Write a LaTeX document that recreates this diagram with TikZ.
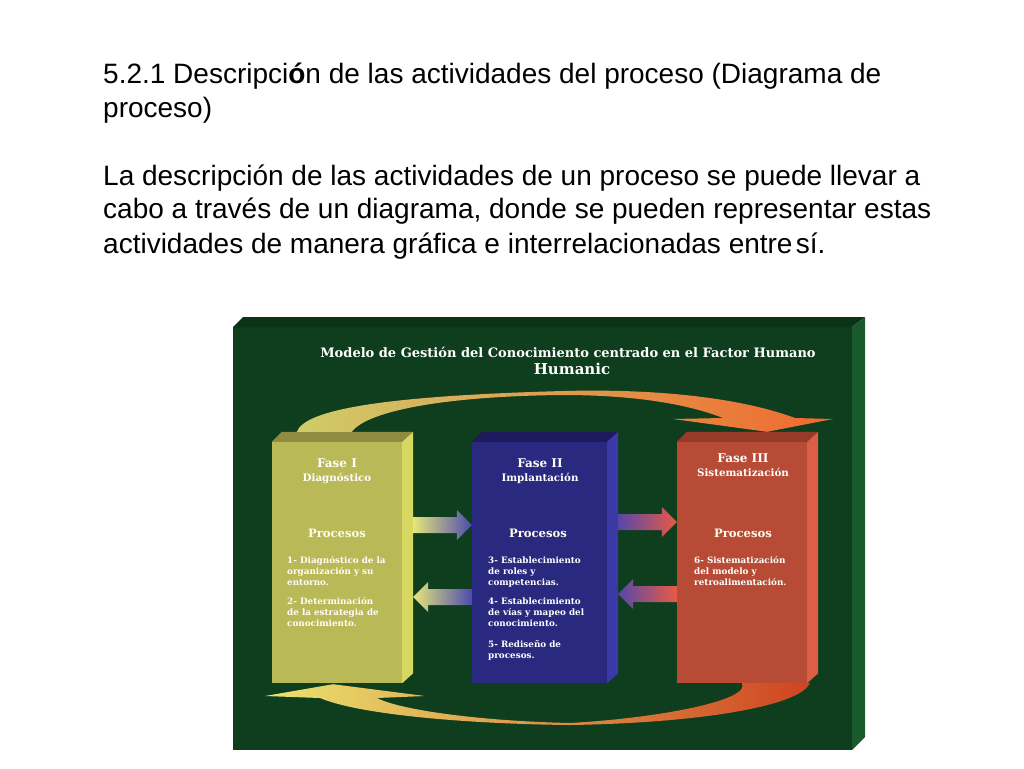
\documentclass[tikz,border=0pt]{standalone}
\usepackage{fontspec}
\setmainfont{Liberation Sans}
\newfontfamily\dvs{DejaVu Serif}
\usetikzlibrary{calc}
\definecolor{panelface}{HTML}{0E3E1E}
\definecolor{paneltop}{HTML}{0A3318}
\definecolor{panelside}{HTML}{185A2C}
\definecolor{bAfront}{HTML}{B9B957}
\definecolor{bAtop}{HTML}{8E8C3F}
\definecolor{bAside}{HTML}{D6D862}
\definecolor{bBfront}{HTML}{2A2980}
\definecolor{bBtop}{HTML}{1D1B5E}
\definecolor{bBside}{HTML}{3A39A6}
\definecolor{bCfront}{HTML}{B84B35}
\definecolor{bCtop}{HTML}{963A29}
\definecolor{bCside}{HTML}{DC5E45}
\definecolor{arY}{HTML}{E6E67A}
\definecolor{arB}{HTML}{4B4BB0}
\definecolor{arB2}{HTML}{5548A8}
\definecolor{arR}{HTML}{E85A45}
\definecolor{topL}{HTML}{CFCC6A}
\definecolor{topM}{HTML}{E9E6A8}
\definecolor{topR}{HTML}{F0682F}
\definecolor{botL}{HTML}{EAE46E}
\definecolor{botM}{HTML}{C89A4C}
\definecolor{botR}{HTML}{D04421}
\newcommand\rarr[4]{%
  \shade[left color=#3,right color=#4] let \p1=(#1), \p2=(#2) in
   (\x1,\y1+8pt) -- (\x2-15pt,\y1+8pt) -- (\x2-15pt,\y1+15pt) -- (\x2,\y1)
   -- (\x2-15pt,\y1-15pt) -- (\x2-15pt,\y1-8pt) -- (\x1,\y1-8pt) -- cycle;}
\newcommand\larr[4]{%
  \shade[left color=#3,right color=#4] let \p1=(#1), \p2=(#2) in
   (\x1,\y1+8pt) -- (\x2+15pt,\y1+8pt) -- (\x2+15pt,\y1+15pt) -- (\x2,\y1)
   -- (\x2+15pt,\y1-15pt) -- (\x2+15pt,\y1-8pt) -- (\x1,\y1-8pt) -- cycle;}
\newcommand\itemgroup[4]{%
  \foreach \t [count=\i] in {#4} {\node[itm] (#1-\i) at (#2,#3+11*\i-11) {\t};}}
\tikzset{
  txt/.style={anchor=base west,inner sep=0pt,font=\fontsize{28}{34}\selectfont},
  box/.style={draw=none,inner sep=0pt,minimum width=#1,minimum height=241pt},
  ttl/.style={anchor=base,inner sep=0pt,text=white,font=\dvs\bfseries\fontsize{13}{15}\selectfont},
  fase/.style={anchor=base,inner sep=0pt,text=white,font=\dvs\bfseries\fontsize{12}{14}\selectfont},
  sub/.style={anchor=base,inner sep=0pt,text=white,font=\dvs\bfseries\fontsize{10.3}{12}\selectfont},
  proc/.style={anchor=base,inner sep=0pt,text=white!92!yellow,font=\dvs\bfseries\fontsize{11.6}{13}\selectfont},
  itm/.style={anchor=base west,inner sep=0pt,text=white,font=\dvs\bfseries\fontsize{8.8}{11}\selectfont},
}
\begin{document}
\begin{tikzpicture}[x=1pt,y=-1pt]
\useasboundingbox (0,0) rectangle (1024,768);
\fill[white] (0,0) rectangle (1024,768);
% heading text
\node[txt] (h1) at (103,83) {5.2.1 Descripci\textbf{ó}n de las actividades del proceso (Diagrama de};
\node[txt] (h2) at (103,117) {proceso)};
\node[txt] (p1) at (103,185) {La descripción de las actividades de un proceso se puede llevar a};
\node[txt] (p2) at (103,218.5) {cabo a través de un diagrama, donde se pueden representar estas};
\node[txt] (p3) at (103,253) {actividades de manera gráfica e interrelacionadas entre\hspace{0.12em}sí.};
% panel
\fill[panelface] (233,327) rectangle (852,750);
\fill[paneltop] (233,327) -- (243,317) -- (865,317) -- (852,327) -- cycle;
\fill[panelside] (852,327) -- (865,317) -- (865,737) -- (852,750) -- cycle;
\node[ttl] (t1) at (568,357) {Modelo de Gestión del Conocimiento centrado en el Factor Humano};
\node[ttl,font=\dvs\bfseries\fontsize{15}{17}\selectfont] (t2) at (572,374) {Humanic};
% boxes
\node[box=130pt,fill=bAfront] (b1) at (337,562.5) {};
\node[box=135pt,fill=bBfront] (b2) at (539.5,562.5) {};
\node[box=130pt,fill=bCfront] (b3) at (742,562.5) {};
\foreach \b/\c in {b1/bA,b2/bB,b3/bC}{
  \fill[\c top] (\b.north west) -- ++(10,-10) -- ($(\b.north east)+(11,-10)$) -- (\b.north east) -- cycle;
  \fill[\c side] (\b.north east) -- ++(11,-10) -- ($(\b.south east)+(11,-10)$) -- (\b.south east) -- cycle;
}
% horizontal block arrows
\coordinate (a1t) at ([xshift=11pt,yshift=37.5pt]b1.east);
\coordinate (a1h) at ([yshift=37.5pt]b2.west);
\rarr{a1t}{a1h}{arY}{arB}
\coordinate (a2t) at ([yshift=-34.5pt]b2.west);
\coordinate (a2h) at ([xshift=11pt,yshift=-34.5pt]b1.east);
\larr{a2t}{a2h}{arY}{arB}
\coordinate (a3t) at ([xshift=11pt,yshift=40.5pt]b2.east);
\coordinate (a3h) at ([yshift=40.5pt]b3.west);
\rarr{a3t}{a3h}{arB2}{arR}
\coordinate (a4t) at ([yshift=-31.5pt]b3.west);
\coordinate (a4h) at ([xshift=11pt,yshift=-31.5pt]b2.east);
\larr{a4t}{a4h}{arB2}{arR}
% top curved arrow
\coordinate (ts1) at ($(b1.north west)+(25,-10)$);
\coordinate (ts2) at ($(b1.north west)+(80,-10)$);
\coordinate (tt) at ($(b3.north)+(25,-10)$);
\shade[left color=topL,middle color=topM,right color=topR]
  (ts1) .. controls (305,410) and (380,396) .. (563,391)
  .. controls (680,388) and (755,403) .. (795,418) -- (833,419) -- (tt) -- (673,419) -- (723,418)
  .. controls (680,401) and (620,395) .. (563,395)
  .. controls (450,396) and (368,410) .. (ts2) -- cycle;
% bottom curved arrow
\coordinate (bs1) at ($(b3.south west)+(65,0)$);
\coordinate (bs2) at ($(b3.south west)+(133,0)$);
\coordinate (bt) at ($(b1.south)+(-4,1)$);
\shade[left color=botL,middle color=botM,right color=botR]
  (bs2) .. controls (800,706) and (700,723) .. (570,725)
  .. controls (470,724) and (360,715) .. (320,698) -- (265,696) -- (bt) -- (425,696) -- (377,698)
  .. controls (400,710) and (480,721) .. (570,723)
  .. controls (660,718) and (752,700) .. (bs1) -- cycle;
% box texts
\node[fase] (f1) at (337,467) {Fase I};
\node[sub] (s1) at (337,481) {Diagnóstico};
\node[fase] (f2) at (540,467) {Fase II};
\node[sub] (s2) at (540,481) {Implantación};
\node[fase] (f3) at (743,462) {Fase III};
\node[sub] (s3) at (743,476) {Sistematización};
\node[proc] (q1) at (337,537) {Procesos};
\node[proc] (q2) at (538,537) {Procesos};
\node[proc] (q3) at (743,537) {Procesos};
\itemgroup{i1}{287}{563}{1- Diagnóstico de la,organización y su,entorno.}
\itemgroup{i2}{287}{604}{2- Determinación,de la estrategia de,conocimiento.}
\itemgroup{i3}{488}{563}{3- Establecimiento,de roles y,competencias.}
\itemgroup{i4}{488}{604}{4- Establecimiento,de vías y mapeo del,conocimiento.}
\itemgroup{i5}{488}{647}{5- Rediseño de,procesos.}
\itemgroup{i6}{694}{563}{6- Sistematización,del modelo y,retroalimentación.}
\end{tikzpicture}
\end{document}
